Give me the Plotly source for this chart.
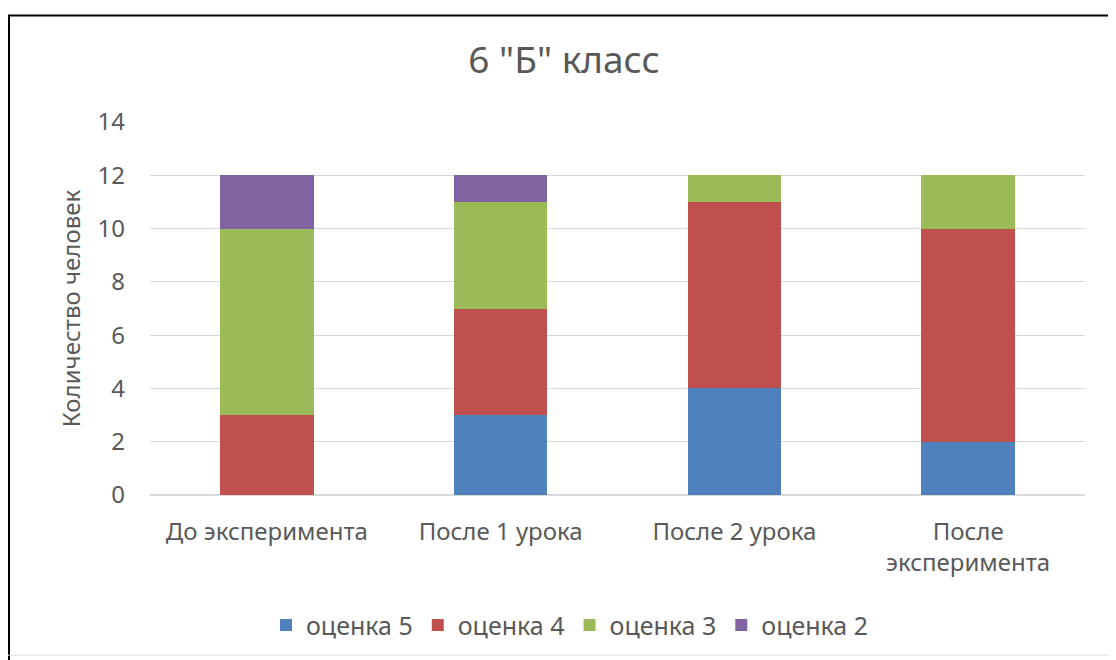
import plotly.graph_objects as go

categories = ["До эксперимента", "После 1 урока", "После 2 урока", "После<br>эксперимента"]
series_names = ["оценка 5", "оценка 4", "оценка 3", "оценка 2"]
grade5 = [0, 3, 4, 2]
grade4 = [3, 4, 7, 8]
grade3 = [7, 4, 1, 2]
grade2 = [2, 1, 0, 0]
colors = ["#4F81BD", "#C0504D", "#9BBB59", "#8064A2"]
y_ticks = [0, 2, 4, 6, 8, 10, 12, 14]

# page body has an 8px margin, so figure coordinates = screen coordinates - 8
OFF = 8
W, H = 1116 - OFF, 660 - OFF
L, R, T, B = 150 - OFF, 1116 - 1085, 122 - OFF, 660 - 497
pw, ph = W - L - R, H - T - B

def px(x):
    return (x - OFF - L) / pw

def py(y):
    return (H - B - (y - OFF)) / ph

fig = go.Figure()
for name, vals, c in zip(series_names, [grade5, grade4, grade3, grade2], colors):
    fig.add_trace(go.Bar(x=categories, y=vals, name=name, marker=dict(color=c, line=dict(width=0))))

font_fam = "Noto Sans, Open Sans, sans-serif"
fig.update_layout(
    width=W, height=H,
    margin=dict(l=L, r=R, t=T, b=B),
    barmode="stack", bargap=0.6,
    plot_bgcolor="white", paper_bgcolor="white",
    font=dict(family=font_fam, color="#595959", size=24),
    title=dict(text='6 "Б" класс', x=(564 - OFF) / W, xref="container", xanchor="center",
               y=1 - (60 - OFF) / H, yanchor="middle", font=dict(size=37, color="#595959")),
    xaxis=dict(showgrid=False, showline=False, ticks="", tickfont=dict(size=24),
               ticklabelstandoff=20),
    yaxis=dict(range=[0, 14], tickvals=y_ticks, showgrid=True, gridcolor="#D9D9D9", gridwidth=1,
               zeroline=True, zerolinecolor="#D9D9D9", showline=False, ticks="",
               tickfont=dict(size=24), ticklabelstandoff=24,
               title=dict(text="Количество человек", font=dict(size=24), standoff=10)),
    legend=dict(orientation="h", x=px(570), xanchor="center", y=py(628), yanchor="middle",
                font=dict(size=25), traceorder="normal", itemwidth=30),
    showlegend=True,
)
fig.add_shape(type="line", xref="paper", yref="paper", x0=px(8), x1=px(1125), y0=py(15), y1=py(15),
              line=dict(color="black", width=2))
fig.add_shape(type="line", xref="paper", yref="paper", x0=px(9), x1=px(9), y0=py(15), y1=py(670),
              line=dict(color="black", width=2))
fig.add_shape(type="line", xref="paper", yref="paper", x0=px(8), x1=px(1125), y0=py(658), y1=py(658),
              line=dict(color="#DDDDDD", width=1))
fig.write_html("out.html")
